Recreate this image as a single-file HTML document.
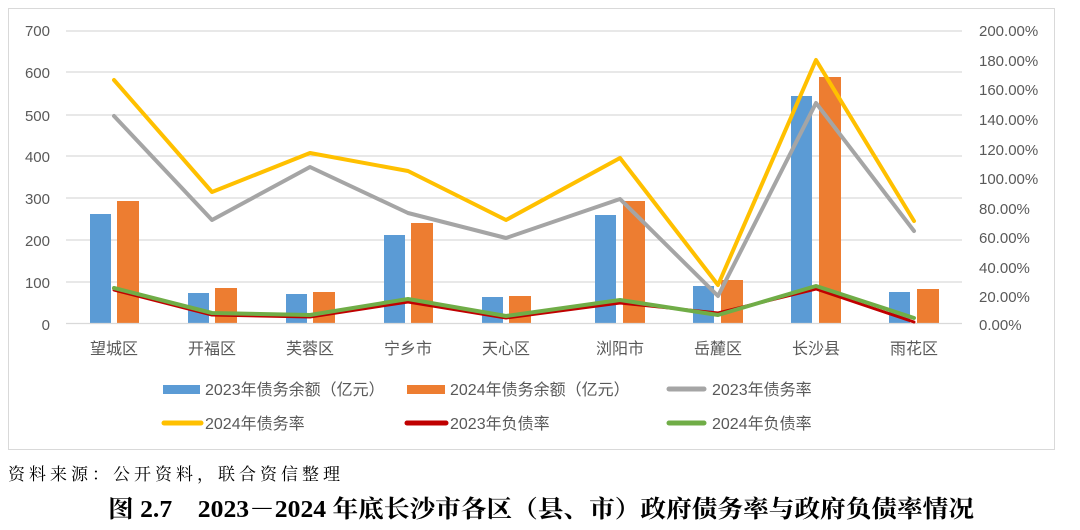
<!DOCTYPE html>
<html><head><meta charset="utf-8"><style>
body{margin:0;background:#fff;width:1080px;height:530px;overflow:hidden}
svg{display:block}
.ax{font-family:"Liberation Sans","Noto Sans CJK SC",sans-serif;font-size:15px;fill:#595959}
.lg{font-family:"Liberation Sans","Noto Sans CJK SC",sans-serif;font-size:16px;fill:#595959}
</style></head><body>
<svg width="1080" height="530" xmlns="http://www.w3.org/2000/svg">
<rect x="8.5" y="8.5" width="1046" height="441" fill="#fff" stroke="#d9d9d9"/>
<g stroke="#d9d9d9" stroke-width="1.3">
<line x1="66" x2="962" y1="31" y2="31"/><line x1="66" x2="962" y1="72" y2="72"/>
<line x1="66" x2="962" y1="115" y2="115"/><line x1="66" x2="962" y1="156" y2="156"/>
<line x1="66" x2="962" y1="198" y2="198"/><line x1="66" x2="962" y1="240" y2="240"/>
<line x1="66" x2="962" y1="282" y2="282"/>
</g>
<g class="ax" text-anchor="end">
<text x="50" y="36">700</text><text x="50" y="78">600</text><text x="50" y="121">500</text>
<text x="50" y="162">400</text><text x="50" y="204">300</text><text x="50" y="246">200</text>
<text x="50" y="288">100</text><text x="50" y="330">0</text>
</g>
<g class="ax">
<text x="979" y="36">200.00%</text><text x="979" y="66">180.00%</text><text x="979" y="95">160.00%</text>
<text x="979" y="125">140.00%</text><text x="979" y="155">120.00%</text><text x="979" y="184">100.00%</text>
<text x="979" y="214">80.00%</text><text x="979" y="243">60.00%</text><text x="979" y="273">40.00%</text>
<text x="979" y="302">20.00%</text><text x="979" y="330">0.00%</text>
</g>
<g fill="#5b9bd5">
<rect x="90" y="214" width="21" height="109"/><rect x="188" y="293" width="21" height="30"/>
<rect x="286" y="294" width="21" height="29"/><rect x="384" y="235" width="21" height="88"/>
<rect x="482" y="297" width="21" height="26"/><rect x="595" y="215" width="21" height="108"/>
<rect x="693" y="286" width="21" height="37"/><rect x="791" y="96" width="21" height="227"/>
<rect x="889" y="292" width="21" height="31"/>
</g>
<g fill="#ed7d31">
<rect x="117" y="201" width="22" height="122"/><rect x="215" y="288" width="22" height="35"/>
<rect x="313" y="292" width="22" height="31"/><rect x="411" y="223" width="22" height="100"/>
<rect x="509" y="296" width="22" height="27"/><rect x="623" y="201" width="22" height="122"/>
<rect x="721" y="280" width="22" height="43"/><rect x="819" y="77" width="22" height="246"/>
<rect x="917" y="289" width="22" height="34"/>
</g>
<line x1="66" x2="962" y1="323.5" y2="323.5" stroke="#d9d9d9" stroke-width="1.3"/>
<g fill="none" stroke-linejoin="round" stroke-linecap="round">
<polyline stroke="#a5a5a5" stroke-width="4" points="114,116 212,220 310,167 408,213 506,238 620,199 718,296 816,103 914,231"/>
<polyline stroke="#ffc000" stroke-width="4" points="114,80 212,192 310,153 408,171 506,220 620,158 718,285 816,60 914,221"/>
<polyline stroke="#c00000" stroke-width="3" points="114,290 212,315 310,317 408,302 506,318 620,303 718,313 816,289 914,322"/>
<polyline stroke="#70ad47" stroke-width="4" points="114,288 212,313 310,315 408,299 506,316 620,300 718,315 816,286 914,318"/>
</g>
<g class="lg" text-anchor="middle" font-size="16">
<text x="114" y="354">望城区</text><text x="212" y="354">开福区</text><text x="310" y="354">芙蓉区</text>
<text x="408" y="354">宁乡市</text><text x="506" y="354">天心区</text><text x="620" y="354">浏阳市</text>
<text x="718" y="354">岳麓区</text><text x="816" y="354">长沙县</text><text x="914" y="354">雨花区</text>
</g>
<rect x="163" y="385" width="37" height="9" fill="#5b9bd5"/>
<text class="lg" x="205" y="395">2023年债务余额（亿元）</text>
<rect x="407" y="385" width="38" height="9" fill="#ed7d31"/>
<text class="lg" x="450" y="395">2024年债务余额（亿元）</text>
<line x1="669" x2="704" y1="389" y2="389" stroke="#a5a5a5" stroke-width="5" stroke-linecap="round"/>
<text class="lg" x="712" y="395">2023年债务率</text>
<line x1="164" x2="201" y1="423" y2="423" stroke="#ffc000" stroke-width="5" stroke-linecap="round"/>
<text class="lg" x="205" y="429">2024年债务率</text>
<line x1="407" x2="446" y1="423" y2="423" stroke="#c00000" stroke-width="5" stroke-linecap="round"/>
<text class="lg" x="450" y="429">2023年负债率</text>
<line x1="669" x2="704" y1="423" y2="423" stroke="#70ad47" stroke-width="5" stroke-linecap="round"/>
<text class="lg" x="712" y="429">2024年负债率</text>
<text x="8" y="480" font-family="'Liberation Serif','Noto Serif CJK SC',serif" font-size="17" letter-spacing="4" fill="#000">资料来源：公开资料，联合资信整理</text>
<text x="541" y="517" text-anchor="middle" font-family="'Liberation Serif','Noto Serif CJK SC',serif" font-size="24" font-weight="bold" fill="#000" textLength="866" lengthAdjust="spacingAndGlyphs">图 2.7　2023－2024 年底长沙市各区（县、市）政府债务率与政府负债率情况</text>
</svg>
</body></html>
